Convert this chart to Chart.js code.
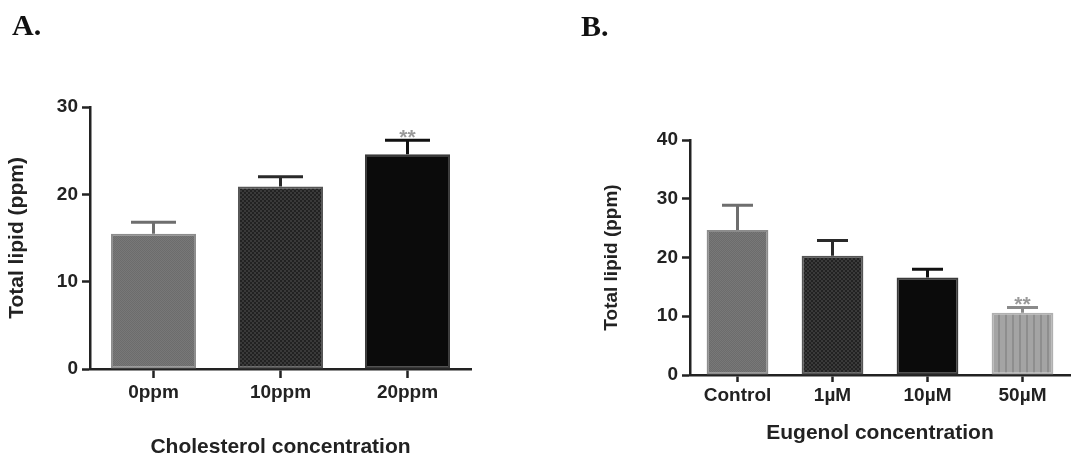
<!DOCTYPE html>
<html>
<head>
<meta charset="utf-8">
<script src="https://cdn.jsdelivr.net/npm/chart.js@4.4.1/dist/chart.umd.min.js"></script>
<style>
    body { margin: 0; background: #fff; }
    #wrap { position: relative; width: 1086px; height: 462px; overflow: hidden; }
    .panel { position: absolute; top: 0; width: 543px; height: 462px; }
    .tag { position: absolute; font-family: "Liberation Serif", serif; font-weight: bold; font-size: 30px; color: #111; line-height: 1; }
</style>
</head>
<body>
<div id="wrap">
    <div class="panel" style="left:0"><canvas id="chartA"></canvas></div>
    <div class="panel" style="left:543px"><canvas id="chartB"></canvas></div>
    <div class="tag" style="left:12px; top:10px;">A.</div>
    <div class="tag" style="left:581px; top:11px;">B.</div>
</div>
<script>
// panel A data
const catsA = ['0ppm', '10ppm', '20ppm'];
const meanA = [15.5, 20.9, 24.6];
const semA = [1.3, 1.1, 1.6];
const sigA = ['', '', '**'];
const yMaxA = 30;

// panel B data
const catsB = ['Control', '1\u00B5M', '10\u00B5M', '50\u00B5M'];
const meanB = [24.7, 20.3, 16.6, 10.6];
const semB = [4.2, 2.6, 1.4, 0.9];
const sigB = ['', '', '', '**'];
const yMaxB = 40;

const FONT = "'Liberation Sans', Arial, sans-serif";
const AXIS = '#222';

function makeChecker(c1, c2, cell) {
    var cv = document.createElement('canvas');
    cv.width = cell * 2; cv.height = cell * 2;
    var g = cv.getContext('2d');
    g.fillStyle = c1; g.fillRect(0, 0, cell * 2, cell * 2);
    g.fillStyle = c2;
    g.fillRect(0, 0, cell, cell);
    g.fillRect(cell, cell, cell, cell);
    return g.createPattern(cv, 'repeat');
}

function makeStripes(c1, c2, period, w) {
    var cv = document.createElement('canvas');
    cv.width = period; cv.height = 4;
    var g = cv.getContext('2d');
    g.fillStyle = c1; g.fillRect(0, 0, period, 4);
    g.fillStyle = c2; g.fillRect(0, 0, w, 4);
    return g.createPattern(cv, 'repeat');
}

const grey = makeChecker('#787878', '#6c6c6c', 1);
const dark = makeChecker('#3a3a3a', '#222222', 2);
const black = '#0b0b0b';
const light = makeStripes('#a4a4a4', '#8e8e8e', 7, 2);

// draws the upper error bar and significance stars
const errorBars = {
    id: 'errorBars',
    afterDatasetsDraw(chart, args, opts) {
        const ctx = chart.ctx;
        const meta = chart.getDatasetMeta(0);
        const y = chart.scales.y;
        ctx.save();
        meta.data.forEach(function (bar, i) {
            var yTop = y.getPixelForValue(opts.mean[i] + opts.sem[i]);
            var yMean = y.getPixelForValue(opts.mean[i]);
            ctx.strokeStyle = opts.colors[i];
            ctx.lineWidth = 3;
            ctx.beginPath();
            ctx.moveTo(bar.x, yMean);
            ctx.lineTo(bar.x, yTop);
            ctx.moveTo(bar.x - opts.cap / 2, yTop);
            ctx.lineTo(bar.x + opts.cap / 2, yTop);
            ctx.stroke();
            if (opts.sig[i]) {
                ctx.fillStyle = '#9a9a9a';
                ctx.font = 'bold 21px ' + FONT;
                ctx.textAlign = 'center';
                ctx.textBaseline = 'alphabetic';
                ctx.fillText(opts.sig[i], bar.x, yTop + 4);
            }
        });
        ctx.restore();
    }
};

function buildChart(id, cfg) {
    return new Chart(document.getElementById(id), {
        type: 'bar',
        data: {
            labels: cfg.cats,
            datasets: [{
                data: cfg.mean,
                backgroundColor: cfg.fills,
                borderColor: cfg.borders,
                borderWidth: 2,
                borderSkipped: false,
                categoryPercentage: 1,
                barPercentage: cfg.barPct
            }]
        },
        plugins: [errorBars],
        options: {
            responsive: true,
            maintainAspectRatio: false,
            animation: false,
            layout: { padding: cfg.padding },
            plugins: {
                legend: { display: false },
                tooltip: { enabled: false },
                errorBars: { mean: cfg.mean, sem: cfg.sem, sig: cfg.sig, colors: cfg.errColors, cap: cfg.cap }
            },
            scales: {
                x: {
                    afterFit: function (s) { s.height = cfg.xHeight; },
                    grid: { display: true, offset: false, drawOnChartArea: false, tickLength: cfg.xTickLen, tickColor: AXIS, tickWidth: 2.5 },
                    border: { display: true, color: AXIS, width: 2.5 },
                    ticks: { color: AXIS, padding: cfg.xTickPad, font: { family: FONT, size: 19, weight: 'bold' } },
                    title: {
                        display: true, text: cfg.xTitle, color: AXIS,
                        padding: { top: 0, bottom: cfg.xTitlePad },
                        font: { family: FONT, size: 21, weight: 'bold' }
                    }
                },
                y: {
                    min: 0, max: cfg.yMax,
                    afterFit: function (s) { s.width = cfg.yWidth; },
                    grid: { display: true, drawOnChartArea: false, tickLength: 8, tickColor: AXIS, tickWidth: 2.5 },
                    border: { display: true, color: AXIS, width: 2.5 },
                    ticks: { stepSize: 10, color: AXIS, padding: 4, font: { family: FONT, size: 19, weight: 'bold' } },
                    title: {
                        display: true, text: 'Total lipid (ppm)', color: AXIS,
                        padding: { top: cfg.yTitlePad, bottom: 0 },
                        font: { family: FONT, size: cfg.yTitleSize, weight: 'bold' }
                    }
                }
            }
        }
    });
}

buildChart('chartA', {
    cats: catsA, mean: meanA, sem: semA, sig: sigA, yMax: yMaxA,
    fills: [grey, dark, black],
    borders: ['#8c8c8c', '#555555', '#3a3a3a'],
    errColors: ['#6e6e6e', '#2a2a2a', '#111111'],
    barPct: 0.67, cap: 45,
    padding: { left: 0, right: 72, top: 107, bottom: 0 },
    xHeight: 93, xTickLen: 9, xTickPad: 3, xTitlePad: 2,
    xTitle: 'Cholesterol concentration',
    yWidth: 90, yTitlePad: 5, yTitleSize: 21
});

buildChart('chartB', {
    cats: catsB, mean: meanB, sem: semB, sig: sigB, yMax: yMaxB,
    fills: [grey, dark, black, light],
    borders: ['#8c8c8c', '#555555', '#3a3a3a', '#b0b0b0'],
    errColors: ['#6e6e6e', '#2a2a2a', '#111111', '#8a8a8a'],
    barPct: 0.65, cap: 31,
    padding: { left: 52, right: 16, top: 140, bottom: 0 },
    xHeight: 87, xTickLen: 7, xTickPad: 2, xTitlePad: 16,
    xTitle: 'Eugenol concentration',
    yWidth: 95, yTitlePad: 5, yTitleSize: 19
});
</script>
</body>
</html>
